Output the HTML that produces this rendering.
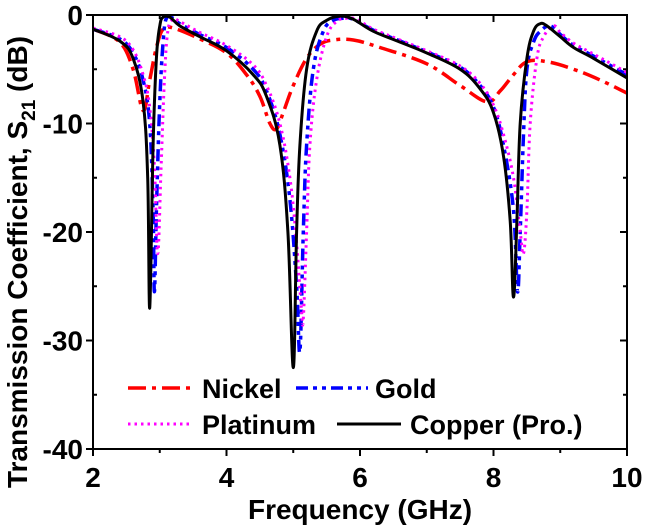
<!DOCTYPE html>
<html><head><meta charset="utf-8"><style>
body{margin:0;background:#fff}
svg{display:block;font-family:"Liberation Sans",Arial,sans-serif;font-weight:bold}
</style></head><body>
<svg id="chart" width="645" height="525" viewBox="0 0 645 525" style="position:absolute;left:0;top:0"></svg>
<script>
const xTicks=[2,4,6,8,10];
const yTicks=[0,-10,-20,-30,-40];
const copperX=[2,2.4,2.6,2.75,2.82,2.85,2.9,2.95,3.0,3.05,3.15,3.3,3.6,4.0,4.4,4.6,4.8,4.92,5.0,5.05,5.1,5.2,5.35,5.5,5.7,5.9,6.2,6.6,7.0,7.5,7.8,8.0,8.15,8.25,8.3,8.35,8.4,8.5,8.6,8.7,8.8,9.0,9.2,9.5,10];
const copperY=[-1.3,-2.4,-4,-8,-15,-27,-12,-4,-1,-0.2,-0.2,-1,-2,-3.3,-5.5,-7.5,-12,-20,-32.5,-20,-12,-5,-1.5,-0.5,-0.1,-0.4,-1.5,-2.5,-3.5,-5,-6.8,-9,-13,-19,-26,-19,-10,-4,-1.5,-0.8,-1,-2,-3,-4,-5.8];
const goldX=[2,2.4,2.6,2.75,2.85,2.9,2.92,2.95,3.0,3.05,3.1,3.2,3.3,3.6,4.0,4.4,4.6,4.8,4.95,5.05,5.1,5.15,5.2,5.3,5.45,5.6,5.75,5.9,6.2,6.6,7.0,7.5,7.8,8.0,8.15,8.3,8.36,8.4,8.45,8.5,8.6,8.7,8.85,9.0,9.2,9.5,10];
const goldY=[-1.3,-2.2,-3.5,-6,-10,-18,-25.5,-18,-8,-2.5,-0.3,-0.3,-0.8,-1.8,-3,-5,-7,-11,-17,-25,-31,-20,-12,-5,-1.5,-0.5,-0.3,-0.4,-1.4,-2.4,-3.4,-4.8,-6.5,-8.5,-12,-18,-25.5,-20,-11,-5,-2.5,-1.5,-1,-1.8,-2.8,-3.8,-5.5];
const platX=[2,2.4,2.6,2.75,2.85,2.92,2.97,3.02,3.07,3.12,3.2,3.3,3.6,4.0,4.4,4.6,4.8,4.95,5.05,5.12,5.15,5.2,5.25,5.35,5.5,5.65,5.8,5.95,6.2,6.6,7.0,7.5,7.8,8.0,8.15,8.3,8.4,8.45,8.5,8.55,8.65,8.75,8.9,9.0,9.2,9.5,10];
const platY=[-1.2,-2,-3.2,-5.5,-8.5,-14,-22,-14,-6,-1.5,-0.4,-0.6,-1.6,-2.8,-4.6,-6.5,-10,-15,-21,-27,-28,-20,-12,-6,-2,-0.6,-0.3,-0.4,-1.3,-2.3,-3.3,-4.7,-6.3,-8.3,-11,-15,-20,-22,-18,-10,-4,-2,-1,-1.6,-2.6,-3.6,-5.3];
const nickX=[2,2.4,2.6,2.75,2.85,2.95,3.05,3.2,3.6,4.0,4.3,4.5,4.65,4.75,4.85,5.0,5.2,5.4,5.6,5.9,6.3,7.0,7.5,7.9,8.1,8.3,8.5,8.8,9.2,9.6,10];
const nickY=[-1.3,-2.5,-5,-8.8,-6,-3,-1.3,-1.2,-2.2,-3.5,-5.5,-7.5,-10,-10.5,-9,-6.5,-4,-2.7,-2.3,-2.3,-3,-4.5,-6.5,-8,-7,-5.5,-4.3,-4.3,-5,-6,-7.2];

const L=93,R=627,T=15,B=449;
const sx=v=>L+(v-2)/8*(R-L);
const sy=v=>T+(0-v)/40*(B-T);
const svg=document.getElementById('chart');
const NS='http://www.w3.org/2000/svg';
function mk(tag,attrs,parent){const e=document.createElementNS(NS,tag);for(const k in attrs)e.setAttribute(k,attrs[k]);(parent||svg).appendChild(e);return e;}
function smooth(xs,ys){
 const P=xs.map((v,i)=>[sx(v),sy(ys[i])]);
 let d='M'+P[0][0].toFixed(1)+','+P[0][1].toFixed(1);
 const k=0.18;
 for(let i=0;i<P.length-1;i++){
  const p0=P[i-1]||P[i],p1=P[i],p2=P[i+1],p3=P[i+2]||p2;
  const c1=[p1[0]+(p2[0]-p0[0])*k,p1[1]+(p2[1]-p0[1])*k];
  const c2=[p2[0]-(p3[0]-p1[0])*k,p2[1]-(p3[1]-p1[1])*k];
  d+='C'+c1.map(n=>n.toFixed(1)).join(',')+' '+c2.map(n=>n.toFixed(1)).join(',')+' '+p2[0].toFixed(1)+','+p2[1].toFixed(1);
 }
 return d;
}

const series=[
 {x:nickX,y:nickY,c:'#ff0000',w:3.5,d:'18 6 4 6',n:'nickel-line'},
 {x:goldX,y:goldY,c:'#0000ff',w:3.5,d:'12 5 4 5 4 5',n:'gold-line'},
 {x:platX,y:platY,c:'#ff00ff',w:3,d:'2.5 4',n:'platinum-line'},
 {x:copperX,y:copperY,c:'#000000',w:3,d:'',n:'copper-line'}];
const clip=mk('clipPath',{id:'pc'});mk('rect',{x:L,y:T,width:R-L,height:B-T},clip);
series.forEach(s=>{
 const p=mk('path',{d:smooth(s.x,s.y),fill:'none',stroke:s.c,'stroke-width':s.w,'stroke-dasharray':s.d,'stroke-linejoin':'round','clip-path':'url(#pc)'});
 
 
});

const f=mk('rect',{x:L,y:T,width:R-L,height:B-T,fill:'none',stroke:'#000','stroke-width':2});


xTicks.forEach(v=>{
 mk('line',{x1:sx(v),x2:sx(v),y1:B,y2:B+7,stroke:'#000','stroke-width':2});
 mk('line',{x1:sx(v),x2:sx(v),y1:T,y2:T+7,stroke:'#000','stroke-width':2});
 const t=mk('text',{x:sx(v),y:B+38,'text-anchor':'middle','font-size':28});t.textContent=v;
 
 
 if(v<10){mk('line',{x1:sx(v+1),x2:sx(v+1),y1:B,y2:B+4,stroke:'#000','stroke-width':2});mk('line',{x1:sx(v+1),x2:sx(v+1),y1:T,y2:T+4,stroke:'#000','stroke-width':2});}
});
yTicks.forEach(v=>{
 mk('line',{x1:L-7,x2:L,y1:sy(v),y2:sy(v),stroke:'#000','stroke-width':2});
 mk('line',{x1:R-7,x2:R,y1:sy(v),y2:sy(v),stroke:'#000','stroke-width':2});
 const t=mk('text',{x:L-10,y:sy(v)+10,'text-anchor':'end','font-size':28});t.textContent=v;
 
 
 if(v>-40){mk('line',{x1:L,x2:L+4,y1:sy(v-5),y2:sy(v-5),stroke:'#000','stroke-width':2});mk('line',{x1:R-4,x2:R,y1:sy(v-5),y2:sy(v-5),stroke:'#000','stroke-width':2});}
});
</script>
<svg style="position:absolute;left:0;top:0" width="645" height="525">
<text x="360" y="519" text-anchor="middle" font-size="28" font-weight="bold" font-family="Liberation Sans, Arial, sans-serif">Frequency (GHz)</text>
<text transform="translate(27,262) rotate(-90)" text-anchor="middle" font-size="28" font-weight="bold" font-family="Liberation Sans, Arial, sans-serif">Transmission Coefficient, S<tspan font-size="19" dy="8">21</tspan><tspan dy="-8"> (dB)</tspan></text>
<g font-size="27" font-weight="bold" font-family="Liberation Sans, Arial, sans-serif">
<line x1="128" y1="388" x2="193" y2="388" stroke="#ff0000" stroke-width="3.5" stroke-dasharray="18 6 4 6"/>
<text x="202" y="398">Nickel</text>
<line x1="296" y1="388" x2="368" y2="388" stroke="#0000ff" stroke-width="3.5" stroke-dasharray="12 5 4 5 4 5"/>
<text x="375" y="398">Gold</text>
<line x1="128" y1="424" x2="193" y2="424" stroke="#ff00ff" stroke-width="3" stroke-dasharray="2.5 4"/>
<text x="202" y="434">Platinum</text>
<line x1="337" y1="424" x2="401" y2="424" stroke="#000" stroke-width="3"/>
<text x="410" y="434">Copper (Pro.)</text>
</g>
</svg>
</body></html>
